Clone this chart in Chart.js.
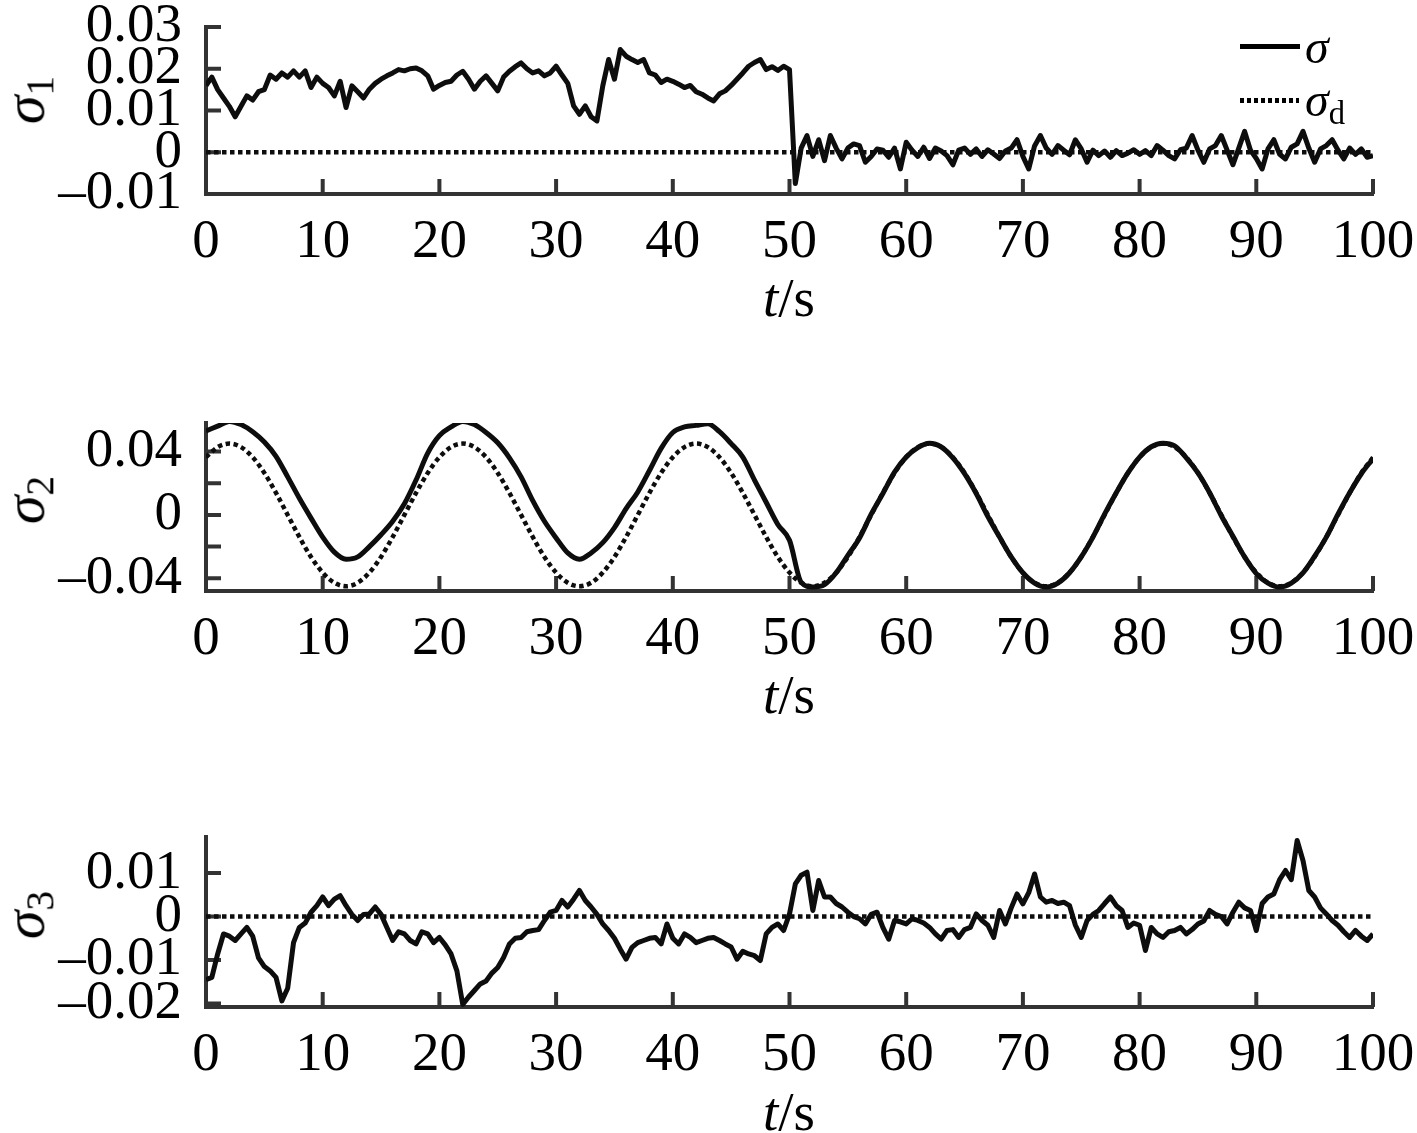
<!DOCTYPE html>
<html>
<head>
<meta charset="utf-8">
<script src="https://cdn.jsdelivr.net/npm/chart.js@4.4.1/dist/chart.umd.min.js"></script>
<style>
body { margin: 0; width: 1417px; height: 1133px; background: #fff; position: relative; overflow: hidden;
       font-family: "Liberation Serif", "Times New Roman", serif; color: #000; }
canvas { position: absolute; left: 0; }
.txt { position: absolute; white-space: nowrap; line-height: 1; z-index: 2; }
.xt { font-size: 55px; }
.yt { font-size: 58px; transform: translate(-50%, -50%) rotate(-90deg); }
.yt sub, .leg sub { font-style: normal; font-size: 0.68em; vertical-align: -0.25em; }
.leg { font-size: 48px; }
.solid { position: absolute; height: 5px; background: #000; z-index: 2; }
.dots { position: absolute; height: 5px; z-index: 2;
        background: repeating-linear-gradient(90deg, #000 0 4px, transparent 4px 7px); }
</style>
</head>
<body>
<canvas id="c1" width="1417" height="350" style="top:-20px"></canvas>
<canvas id="c2" width="1417" height="345" style="top:380px"></canvas>
<canvas id="c3" width="1417" height="343" style="top:790px"></canvas>

<!-- achsentitel -->
<div class="txt yt" style="left:28px;top:100px"><i>σ</i><sub>1</sub></div>
<div class="txt yt" style="left:28px;top:500px"><i>σ</i><sub>2</sub></div>
<div class="txt yt" style="left:28px;top:915px"><i>σ</i><sub>3</sub></div>
<div class="txt xt" style="left:763px;top:270px"><i>t</i>/s</div>
<div class="txt xt" style="left:763px;top:667px"><i>t</i>/s</div>
<div class="txt xt" style="left:763px;top:1084px"><i>t</i>/s</div>

<!-- legende -->
<div class="solid" style="left:1240px;top:44px;width:60px"></div>
<div class="txt leg" style="left:1305px;top:23px"><i>σ</i></div>
<div class="dots" style="left:1240px;top:98px;width:59px"></div>
<div class="txt leg" style="left:1305px;top:76px"><i>σ</i><sub>d</sub></div>

<script>
"use strict"
// Zeitachse
const xTicks = [0, 10, 20, 30, 40, 50, 60, 70, 80, 90, 100];
const tHalf = [];   // 0.5 s Raster
for (let i = 0; i <= 200; i++) tHalf.push(i * 0.5);
const tOne = [];    // 1 s Raster
for (let i = 0; i <= 100; i++) tOne.push(i);
const tRef = [0, 100];

// sigma_1 (0.5 s)
const sigma1 = [
  0.016, 0.018, 0.015, 0.013, 0.011, 0.0085, 0.011, 0.0135, 0.0125, 0.0145,
  0.015, 0.0185, 0.0175, 0.019, 0.018, 0.0195, 0.018, 0.0195, 0.0155, 0.018,
  0.0165, 0.0155, 0.0135, 0.017, 0.0107, 0.0159, 0.0145, 0.013, 0.0151, 0.0165,
  0.0175, 0.0183, 0.019, 0.0198, 0.0195, 0.02, 0.0202, 0.0195, 0.0183, 0.0151,
  0.016, 0.0167, 0.017, 0.0185, 0.0194, 0.0175, 0.0151, 0.017, 0.0183, 0.0165,
  0.0147, 0.018, 0.0194, 0.0205, 0.0214, 0.02, 0.019, 0.0195, 0.0183, 0.019,
  0.0206, 0.0185, 0.0165, 0.0111, 0.0091, 0.0111, 0.0085, 0.0075, 0.0159, 0.0222,
  0.0175, 0.0246, 0.023, 0.0222, 0.0215, 0.0222, 0.019, 0.0185, 0.0167, 0.0175,
  0.017, 0.0163, 0.0155, 0.016, 0.0145, 0.0139, 0.013, 0.0123, 0.014, 0.0147,
  0.016, 0.0175, 0.019, 0.0206, 0.0215, 0.0222, 0.0198, 0.0205, 0.0196, 0.0206,
  0.0198, -0.0075, 0.001, 0.004, -0.001, 0.003, -0.002, 0.004, 0.001, -0.0016,
  0.001, 0.002, 0.0016, -0.0024, -0.001, 0.0008, 0.0005, -0.0012, 0.001, -0.004,
  0.0024, 0.0005, -0.001, 0.0012, -0.0015, 0.001, 0.0003, -0.0008, -0.003, 0.0005,
  0.001, -0.0005, 0.0008, -0.001, 0.0006, -0.0004, -0.0015, 0.0003, 0.001, 0.003,
  -0.001, -0.004, 0.0015, 0.004, 0.001, -0.0005, 0.0016, 0.0005, -0.0006, 0.003,
  0.0008, -0.0024, 0.0005, -0.0008, 0.0003, -0.0012, 0.0004, -0.0008, -0.0002, 0.0006,
  -0.0005, 0.0004, -0.0008, 0.0016, 0.0005, -0.0008, -0.0016, 0.0006, 0.001, 0.004,
  0.0005, -0.0024, 0.0008, 0.0016, 0.004, 0.0005, -0.003, 0.001, 0.005, 0.0005,
  -0.0015, -0.004, 0.0008, 0.003, -0.0005, -0.0016, 0.0012, 0.002, 0.005, 0.001,
  -0.0024, 0.0008, 0.0016, 0.003, 0.0005, -0.0016, 0.001, -0.0005, 0.0008, -0.0012,
  -0.0008
];
const sigma1d = [0, 0];

// sigma_2 (1 s)
const sigma2 = [
  0.053, 0.056, 0.059, 0.057, 0.0525, 0.046, 0.037, 0.024, 0.0105, -0.002,
  -0.014, -0.0235, -0.028, -0.0265, -0.02, -0.0125, -0.004, 0.007, 0.022, 0.039,
  0.05, 0.0555, 0.059, 0.057, 0.052, 0.0455, 0.036, 0.024, 0.009, -0.004,
  -0.0145, -0.024, -0.028, -0.024, -0.0175, -0.008, 0.004, 0.0145, 0.028, 0.042,
  0.052, 0.0555, 0.0565, 0.0575, 0.0525, 0.045, 0.0365, 0.022, 0.008, -0.006,
  -0.016, -0.0425, -0.0455, -0.044, -0.0365, -0.0255, -0.0145, 0.0005, 0.0135, 0.027,
  0.0365, 0.0425, 0.0452, 0.043, 0.036, 0.026, 0.0135, -0.001, -0.014, -0.0265,
  -0.0365, -0.043, -0.0455, -0.043, -0.0365, -0.0265, -0.014, 0.0005, 0.014, 0.0265,
  0.0365, 0.043, 0.0452, 0.0435, 0.036, 0.0265, 0.014, -0.0005, -0.0135, -0.0265,
  -0.037, -0.043, -0.0455, -0.043, -0.0365, -0.026, -0.014, 0.0005, 0.014, 0.026,
  0.0355
];
const sigma2d = [
  0.0364, 0.0428, 0.045, 0.0428, 0.0364, 0.0265, 0.0139, 0, -0.0139, -0.0265,
  -0.0364, -0.0428, -0.045, -0.0428, -0.0364, -0.0265, -0.0139, 0, 0.0139, 0.0265,
  0.0364, 0.0428, 0.045, 0.0428, 0.0364, 0.0265, 0.0139, 0, -0.0139, -0.0265,
  -0.0364, -0.0428, -0.045, -0.0428, -0.0364, -0.0265, -0.0139, 0, 0.0139, 0.0265,
  0.0364, 0.0428, 0.045, 0.0428, 0.0364, 0.0265, 0.0139, 0, -0.0139, -0.0265,
  -0.0364, -0.0428, -0.045, -0.0428, -0.0364, -0.0265, -0.0139, 0, 0.0139, 0.0265,
  0.0364, 0.0428, 0.045, 0.0428, 0.0364, 0.0265, 0.0139, 0, -0.0139, -0.0265,
  -0.0364, -0.0428, -0.045, -0.0428, -0.0364, -0.0265, -0.0139, 0, 0.0139, 0.0265,
  0.0364, 0.0428, 0.045, 0.0428, 0.0364, 0.0265, 0.0139, 0, -0.0139, -0.0265,
  -0.0364, -0.0428, -0.045, -0.0428, -0.0364, -0.0265, -0.0139, 0, 0.0139, 0.0265,
  0.0364
];

// sigma_3 (0.5 s)
const sigma3 = [
  -0.0145, -0.014, -0.0086, -0.004, -0.0045, -0.0055, -0.004, -0.0025, -0.0045, -0.0095,
  -0.0115, -0.0125, -0.014, -0.0194, -0.0165, -0.006, -0.0025, -0.0015, 0.001, 0.0025,
  0.0045, 0.0025, 0.004, 0.0048, 0.0025, 0.0005, -0.0009, 0.0005, 0.0006, 0.0022,
  0.0005, -0.0025, -0.0055, -0.0035, -0.004, -0.0055, -0.0063, -0.0035, -0.004, -0.006,
  -0.0048, -0.0065, -0.0086, -0.0125, -0.0202, -0.0185, -0.017, -0.0155, -0.0148, -0.013,
  -0.0117, -0.0094, -0.0063, -0.005, -0.0048, -0.0035, -0.0032, -0.003, -0.0009, 0.001,
  0.0014, 0.0037, 0.0022, 0.004, 0.006, 0.0037, 0.0022, 0.0005, -0.0017, -0.0032,
  -0.005, -0.0075, -0.0098, -0.0071, -0.006, -0.0055, -0.005, -0.0048, -0.0063, -0.0017,
  -0.005, -0.0063, -0.004, -0.0048, -0.006, -0.0055, -0.005, -0.0048, -0.0055, -0.0063,
  -0.007, -0.0098, -0.008, -0.0086, -0.009, -0.0101, -0.004, -0.0025, -0.0017, -0.0032,
  0.0006, 0.0075, 0.0095, 0.0102, 0.0014, 0.0083, 0.0045, 0.0045, 0.003, 0.0022,
  0.001, 0, -0.0005, -0.0017, 0.0005, 0.001, -0.0025, -0.0052, -0.0009, -0.0012,
  -0.0017, -0.0005, -0.0009, -0.0015, -0.0025, -0.004, -0.0052, -0.0032, -0.003, -0.0048,
  -0.003, -0.0025, 0.0006, -0.0009, -0.002, -0.0048, 0.0014, -0.0017, 0.002, 0.0052,
  0.0029, 0.0055, 0.0098, 0.0045, 0.0033, 0.0037, 0.003, 0.0033, 0.0025, -0.002,
  -0.0048, -0.0009, 0.0005, 0.0014, 0.003, 0.0045, 0.0025, 0.0014, -0.0025, -0.0015,
  -0.002, -0.0078, -0.0025, -0.004, -0.0048, -0.0035, -0.0032, -0.0025, -0.004, -0.003,
  -0.0017, -0.001, 0.0014, 0.0005, 0, -0.0017, 0.001, 0.0033, 0.002, 0.0014,
  -0.0032, 0.003, 0.0045, 0.0052, 0.0085, 0.0106, 0.0085, 0.0175, 0.0129, 0.006,
  0.0045, 0.002, 0.0006, -0.0009, -0.002, -0.0035, -0.0048, -0.0032, -0.0045, -0.0055,
  -0.004
];
const sigma3d = [0, 0];

// y-Achsen: Beschriftung und Teilstriche
const yLabels1 = [-0.01, 0, 0.01, 0.02, 0.03];
const yMarks1 = [0, 0.01, 0.02, 0.03];
const yLabels2 = [-0.04, 0, 0.04];
const yMarks2 = [-0.04, -0.02, 0, 0.02, 0.04];
const yLabels3 = [-0.02, -0.01, 0, 0.01];
const yMarks3 = [-0.02, -0.01, 0, 0.01];

const axisColor = "#333";
const tickFont = { family: "Liberation Serif", size: 55 };

function pts(xs, ys) {
    return xs.map((x, i) => ({ x: x, y: ys[i] }));
}

// Teilstriche nach innen zeichnen
const innerTicks = {
    id: "innerTicks",
    beforeDatasetsDraw(chart, args, opts) {
        const ctx = chart.ctx;
        const area = chart.chartArea;
        ctx.save();
        ctx.strokeStyle = axisColor;
        ctx.lineWidth = 4;
        ctx.beginPath();
        xTicks.forEach(v => {
            const px = chart.scales.x.getPixelForValue(v);
            ctx.moveTo(px, area.bottom);
            ctx.lineTo(px, area.bottom - 15);
        });
        opts.yMarks.forEach(v => {
            const py = chart.scales.y.getPixelForValue(v);
            ctx.moveTo(area.left, py);
            ctx.lineTo(area.left + 15, py);
        });
        ctx.stroke();
        ctx.restore();
    }
};

function makeChart(id, cfg) {
    const canvas = document.getElementById(id);
    const H = canvas.height;
    // glatte Kurve nur fuer das 1-s-Raster
    const interp = cfg.smooth ? "monotone" : "default";
    return new Chart(canvas.getContext("2d"), {
        type: "line",
        data: {
            datasets: [
                { data: pts(cfg.tSig, cfg.sig), borderColor: "#0d0d0d", borderWidth: 5, borderDash: [],
                  cubicInterpolationMode: interp, tension: cfg.smooth ? 0.4 : 0 },
                { data: pts(cfg.tRef, cfg.ref), borderColor: "#0d0d0d", borderWidth: 4.5, borderDash: [4.5, 3.5],
                  cubicInterpolationMode: interp, tension: cfg.smooth ? 0.4 : 0 }
            ]
        },
        options: {
            responsive: false,
            animation: false,
            events: [],
            elements: {
                point: { radius: 0 },
                line: { borderJoinStyle: "round", borderCapStyle: "butt" }
            },
            layout: { padding: { top: cfg.top, right: 44, left: 0, bottom: 0 } },
            plugins: { legend: { display: false }, tooltip: { enabled: false }, innerTicks: { yMarks: cfg.yMarks } },
            scales: {
                x: {
                    type: "linear", min: 0, max: 100,
                    afterBuildTicks: s => { s.ticks = xTicks.map(v => ({ value: v })); },
                    afterFit: s => { s.height = H - cfg.bottom; s.paddingLeft = 0; s.paddingRight = 0; },
                    grid: { display: false, drawTicks: false },
                    border: { display: true, color: axisColor, width: 4 },
                    ticks: { font: tickFont, color: "#000", padding: 16, maxRotation: 0, autoSkip: false }
                },
                y: {
                    type: "linear", min: cfg.min, max: cfg.max,
                    afterBuildTicks: s => { s.ticks = cfg.yLabels.map(v => ({ value: v })); },
                    afterFit: s => { s.width = 206; s.paddingTop = 0; s.paddingBottom = 0; },
                    grid: { display: false, drawTicks: false },
                    border: { display: true, color: axisColor, width: 4 },
                    ticks: {
                        font: tickFont, color: "#000", padding: 24, autoSkip: false,
                        callback: v => (v < 0 ? "\u2013" + String(-v) : String(v))
                    }
                }
            }
        },
        plugins: [innerTicks]
    });
}

// Diagramm 1: sigma_1
makeChart("c1", { tSig: tHalf, sig: sigma1, tRef: tRef, ref: sigma1d, smooth: false,
    min: -0.01, max: 0.03, yLabels: yLabels1, yMarks: yMarks1, top: 47, bottom: 214 });

// Diagramm 2: sigma_2
makeChart("c2", { tSig: tOne, sig: sigma2, tRef: tOne, ref: sigma2d, smooth: true,
    min: -0.048, max: 0.058, yLabels: yLabels2, yMarks: yMarks2, top: 43, bottom: 211 });

// Diagramm 3: sigma_3
makeChart("c3", { tSig: tHalf, sig: sigma3, tRef: tRef, ref: sigma3d, smooth: false,
    min: -0.0208, max: 0.0183, yLabels: yLabels3, yMarks: yMarks3, top: 47, bottom: 217 });
</script>
</body>
</html>
